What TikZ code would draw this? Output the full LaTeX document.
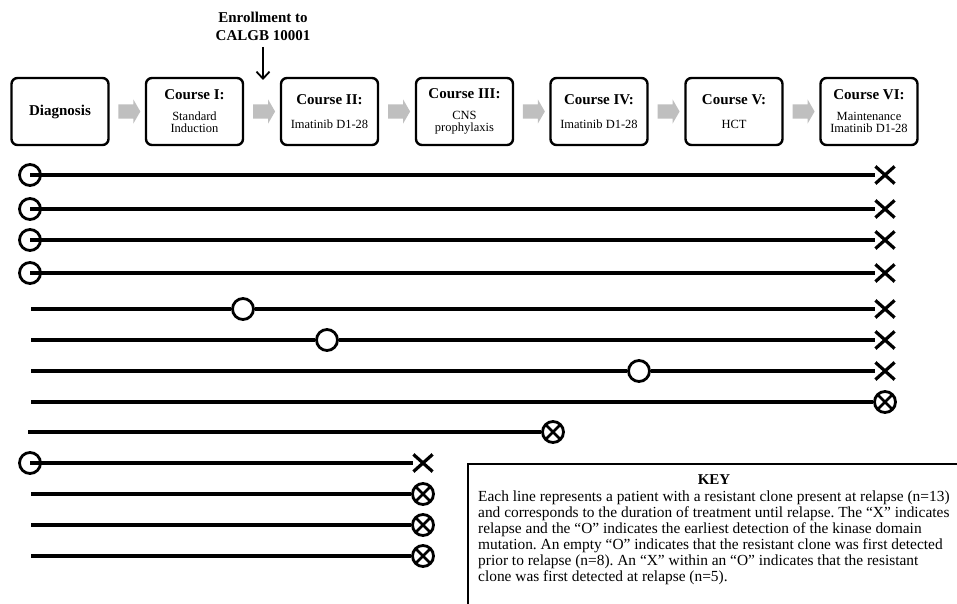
\documentclass[tikz,border=0pt]{standalone}
\usepackage{fontspec}
\setmainfont{Liberation Serif}
\usetikzlibrary{shapes.arrows,shapes.misc,arrows.meta}
\begin{document}
\frenchspacing
\begin{tikzpicture}[x=1pt,y=-1pt,
  cbox/.style={draw, rounded corners=6pt, line width=2.4pt, minimum width=97pt,
    minimum height=67pt, inner sep=0pt, align=center,
    font=\fontsize{12.5}{12.5}\selectfont},
  ttl/.style={font=\fontsize{15}{15}\selectfont\bfseries},
  garrow/.style={single arrow, fill=black!25, draw=none, inner xsep=0pt, inner ysep=7pt,
    minimum height=22pt, minimum width=24pt, single arrow head extend=5pt,
    single arrow tip angle=120},
  bar/.style={line width=3.4pt},
  omark/.style={circle, draw, fill=white, line width=2.8pt, minimum size=21pt, inner sep=0pt},
  oxmark/.style={omark, path picture={\draw[line width=2.6pt]
      (path picture bounding box.south west) -- (path picture bounding box.north east)
      (path picture bounding box.north west) -- (path picture bounding box.south east);}},
  xmark/.style={cross out, draw, line width=3.2pt, minimum width=16pt, minimum height=14pt, inner sep=0pt},
]
\useasboundingbox (0,0) rectangle (957,604);
\begin{scope}
\clip (0,0) rectangle (957,604);

% course boxes
\node[cbox] (b0) at (60,111.5) {\fontsize{15}{15}\selectfont\bfseries Diagnosis};
\node[cbox] (b1) at (194.5,111.5) {{\fontsize{15}{15}\selectfont\bfseries Course I:}\\[8pt]Standard\\Induction};
\node[cbox] (b2) at (329.5,111.5) {{\fontsize{15}{15}\selectfont\bfseries Course II:}\\[12pt]Imatinib D1-28};
\node[cbox] (b3) at (464.5,111.5) {{\fontsize{15}{15}\selectfont\bfseries Course III:}\\[8pt]CNS\\prophylaxis};
\node[cbox] (b4) at (599,111.5) {{\fontsize{15}{15}\selectfont\bfseries Course IV:}\\[12pt]Imatinib D1-28};
\node[cbox] (b5) at (734,111.5) {{\fontsize{15}{15}\selectfont\bfseries Course V:}\\[12pt]HCT};
\node[cbox] (b6) at (869,111.5) {{\fontsize{15}{15}\selectfont\bfseries Course VI:}\\[8pt]Maintenance\\Imatinib D1-28};

% gray arrows between boxes
\foreach \a/\b in {b0/b1,b1/b2,b2/b3,b3/b4,b4/b5,b5/b6}{
  \path (\a) -- node[garrow] (g\a) {} (\b);
}

% enrollment
\node[ttl, align=center] (enr) at (263,26.5) {Enrollment to\\[2.5pt]CALGB 10001};
\coordinate (enrtip) at (263,80);
\draw[line width=1.8pt, -{Straight Barb[length=7pt,width=13pt,line width=1.8pt]}] (263,47) -- (enrtip);

% patient lines
\foreach \i/\y in {1/175,2/209,3/240,4/273}{
  \node[omark] (o\i) at (30,\y) {};
  \node[xmark] (x\i) at (885,\y) {};
  \draw[bar] (o\i.center) -- (x\i);
}
\foreach \i/\y/\ox in {5/309/243,6/340/327,7/371/639}{
  \coordinate (s\i) at (31,\y);
  \node[omark] (o\i) at (\ox,\y) {};
  \node[xmark] (x\i) at (885,\y) {};
  \draw[bar] (s\i) -- (o\i) -- (x\i);
}
\coordinate (s8) at (31,402);
\node[oxmark] (x8) at (885,402) {};
\draw[bar] (s8) -- (x8);
\coordinate (s9) at (28,432);
\node[oxmark] (x9) at (553,432) {};
\draw[bar] (s9) -- (x9);
\node[omark] (o10) at (30,463) {};
\node[xmark] (x10) at (423,463) {};
\draw[bar] (o10.center) -- (x10);
\foreach \i/\y in {11/494,12/525,13/556}{
  \coordinate (s\i) at (31,\y);
  \node[oxmark] (x\i) at (423,\y) {};
  \draw[bar] (s\i) -- (x\i);
}

% key
\coordinate (kbl) at (468,640);
\coordinate (ktr) at (990,464);
\draw[line width=1.6pt] (kbl) |- (ktr);
\node[ttl] (keyt) at (714,480) {KEY};
\node[anchor=north west, inner sep=0pt, align=left,
  font=\fontsize{15.4}{16}\selectfont] (keytext) at (478,491)
{Each line represents a patient with a resistant clone present at relapse (n=13)\\
and corresponds to the duration of treatment until relapse. The “X” indicates\\
relapse and the “O” indicates the earliest detection of the kinase domain\\
mutation. An empty “O” indicates that the resistant clone was first detected\\
prior to relapse (n=8). An “X” within an “O” indicates that the resistant\\
clone was first detected at relapse (n=5).};
\end{scope}
\end{tikzpicture}
\end{document}
